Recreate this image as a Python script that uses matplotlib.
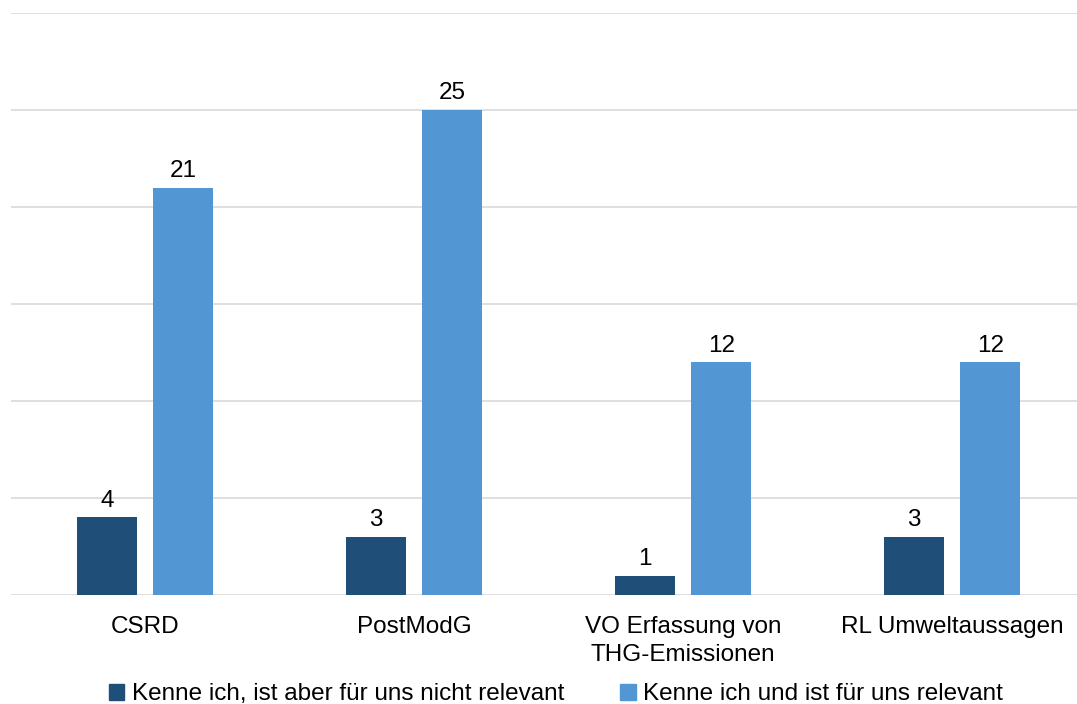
import numpy as np
import matplotlib.pyplot as plt
from matplotlib.patches import Patch

categories = ["CSRD", "PostModG", "VO Erfassung von\nTHG-Emissionen", "RL Umweltaussagen"]
nicht_relevant = [4, 3, 1, 3]
relevant = [21, 25, 12, 12]
series_names = ["Kenne ich, ist aber für uns nicht relevant",
                "Kenne ich und ist für uns relevant"]

dark_blue = "#1f4e79"
light_blue = "#5296d4"

plt.rcParams["font.family"] = ["Liberation Sans", "DejaVu Sans"]
plt.rcParams["font.size"] = 17.5

fig = plt.figure(figsize=(10.77, 7.04), dpi=100)
ax = fig.add_axes([10.5 / 1077, 109 / 704, 1 - 10.5 / 1077, 582 / 704])

x = np.arange(len(categories))
w = 0.223
off = 0.142

b1 = ax.bar(x - off, nicht_relevant, w, color=dark_blue, zorder=3)
b2 = ax.bar(x + off, relevant, w, color=light_blue, zorder=3)
ax.bar_label(b1, padding=4)
ax.bar_label(b2, padding=4)

ax.set_ylim(0, 30)
ax.set_xlim(-0.5, 3.5 - 9.5 / 269)
ax.set_yticks(np.arange(0, 31, 5))
ax.yaxis.grid(True, color="#d9d9d9", linewidth=1.2, zorder=0)
ax.set_yticklabels([])
ax.tick_params(axis="y", length=0)
ax.set_xticks(x)
ax.set_xticklabels(categories, linespacing=1.35)
ax.tick_params(axis="x", length=0, pad=15)
for s in ax.spines.values():
    s.set_visible(False)

handles = [Patch(color=dark_blue), Patch(color=light_blue)]
fig.legend(handles, series_names, loc="lower center", ncol=2, frameon=False,
           bbox_to_anchor=(0.516, -0.033), handlelength=0.65, handleheight=0.65,
           handletextpad=0.3, columnspacing=2.3)

fig.savefig("out.png", dpi=100)
